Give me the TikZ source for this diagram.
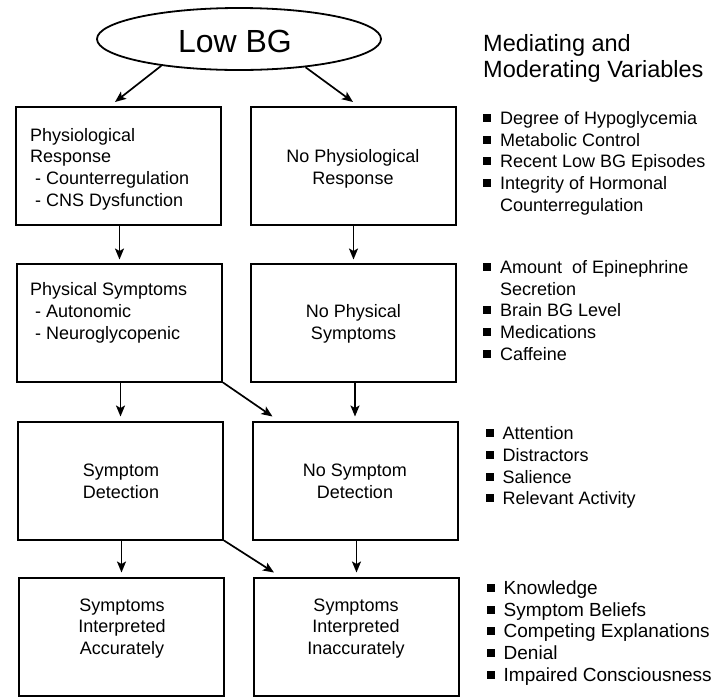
\documentclass[tikz,border=0pt]{standalone}
\usepackage{fontspec}
\setmainfont{Liberation Sans}
\usetikzlibrary{arrows.meta,shapes.geometric}
\newcommand{\bsq}{\strut\makebox[17pt][l]{\rule[2.5pt]{8pt}{8pt}}}
\newcommand{\hind}{\strut\hspace*{17pt}}
\newcommand{\dind}{\hspace*{5pt}- }
\begin{document}
\begin{tikzpicture}[x=1pt,y=-1pt,
  box/.style={draw, line width=2pt, minimum width=205pt, minimum height=118pt, inner sep=0pt, anchor=center},
  txt/.style={font=\fontsize{18}{21.7}\selectfont, inner sep=0pt, align=center},
  ltxt/.style={txt, align=left, anchor=west},
  lst/.style={font=\fontsize{18}{21.7}\selectfont, inner sep=0pt, align=left, anchor=west},
  arr/.style={-{Stealth[length=11pt,width=9pt,inset=2.5pt]}, line width=1.7pt}]
\useasboundingbox (0,0) rectangle (715,697);
% top ellipse
\node[ellipse, draw, line width=1.8pt, minimum width=284pt, minimum height=62pt, inner sep=0pt] (ell) at (239,39) {};
\node[font=\fontsize{32}{38}\selectfont, inner sep=0pt] (lowbg) at (235,41) {Low BG};
% boxes
\node[box] (b1l) at (118.5,166) {};
\node[box] (b1r) at (353,166) {};
\node[box] (b2l) at (119.5,322.5) {};
\node[box] (b2r) at (353.5,322.5) {};
\node[box] (b3l) at (120.5,480.5) {};
\node[box] (b3r) at (355,480.5) {};
\node[box] (b4l) at (121.5,636.5) {};
\node[box] (b4r) at (356.5,636.5) {};
% box texts
\node[ltxt] (t1l) at (30,169.5) {\strut Physiological\\Response\\\dind Counterregulation\\\dind CNS Dysfunction\strut};
\node[txt] (t1r) at (353,169.5) {\strut No Physiological\\Response\strut};
\node[ltxt] (t2l) at (30,313) {\strut Physical Symptoms\\\dind Autonomic\\\dind Neuroglycopenic\strut};
\node[txt] (t2r) at (353.5,324.5) {\strut No Physical\\Symptoms\strut};
\node[txt] (t3l) at (121,483) {\strut Symptom\\Detection\strut};
\node[txt] (t3r) at (355,483) {\strut No Symptom\\Detection\strut};
\node[txt] (t4l) at (122,628.5) {\strut Symptoms\\Interpreted\\Accurately\strut};
\node[txt] (t4r) at (356,628.5) {\strut Symptoms\\Interpreted\\Inaccurately\strut};
% right column
\node[font=\fontsize{23.5}{26}\selectfont, inner sep=0pt, align=left, anchor=west] (hd) at (483,59.5) {\strut Mediating and\\Moderating Variables\strut};
\node[lst] (v1) at (483,163.5) {\bsq Degree of Hypoglycemia\\\bsq Metabolic Control\\\bsq Recent Low BG Episodes\\\bsq Integrity of Hormonal\\\hind Counterregulation};
\node[lst] (v2) at (483,312.5) {\bsq Amount~ of Epinephrine\\\hind Secretion\\\bsq Brain BG Level\\\bsq Medications\\\bsq Caffeine};
\node[lst] (v3) at (485.5,468) {\bsq Attention\\\bsq Distractors\\\bsq Salience\\\bsq Relevant Activity};
\node[lst, font=\fontsize{19}{21.7}\selectfont] (v4) at (486.5,633.5) {\bsq Knowledge\\\bsq Symptom Beliefs\\\bsq Competing Explanations\\\bsq Denial\\\bsq Impaired Consciousness};
% arrows
\draw[arr] (ell.199) -- ([xshift=-3.5pt,yshift=4pt]b1l.north);
\draw[arr] (ell.337) -- ([yshift=4pt]b1r.north);
\draw[arr] (b2l.north |- b1l.south) -- ([yshift=3pt]b2l.north);
\draw[arr] (b2r.north |- b1r.south) -- ([yshift=3pt]b2r.north);
\draw[arr] (b3l.north |- b2l.south) -- ([yshift=4pt]b3l.north);
\draw[arr] (b3r.north |- b2r.south) -- ([yshift=4pt]b3r.north);
\draw[arr] (b2l.south east) -- ([xshift=21pt,yshift=4pt]b3r.north west);
\draw[arr] (b4l.north |- b3l.south) -- ([yshift=4pt]b4l.north);
\draw[arr] (b4r.north |- b3r.south) -- ([yshift=4pt]b4r.north);
\draw[arr] (b3l.south east) -- ([xshift=21pt,yshift=4pt]b4r.north west);
\end{tikzpicture}
\end{document}
